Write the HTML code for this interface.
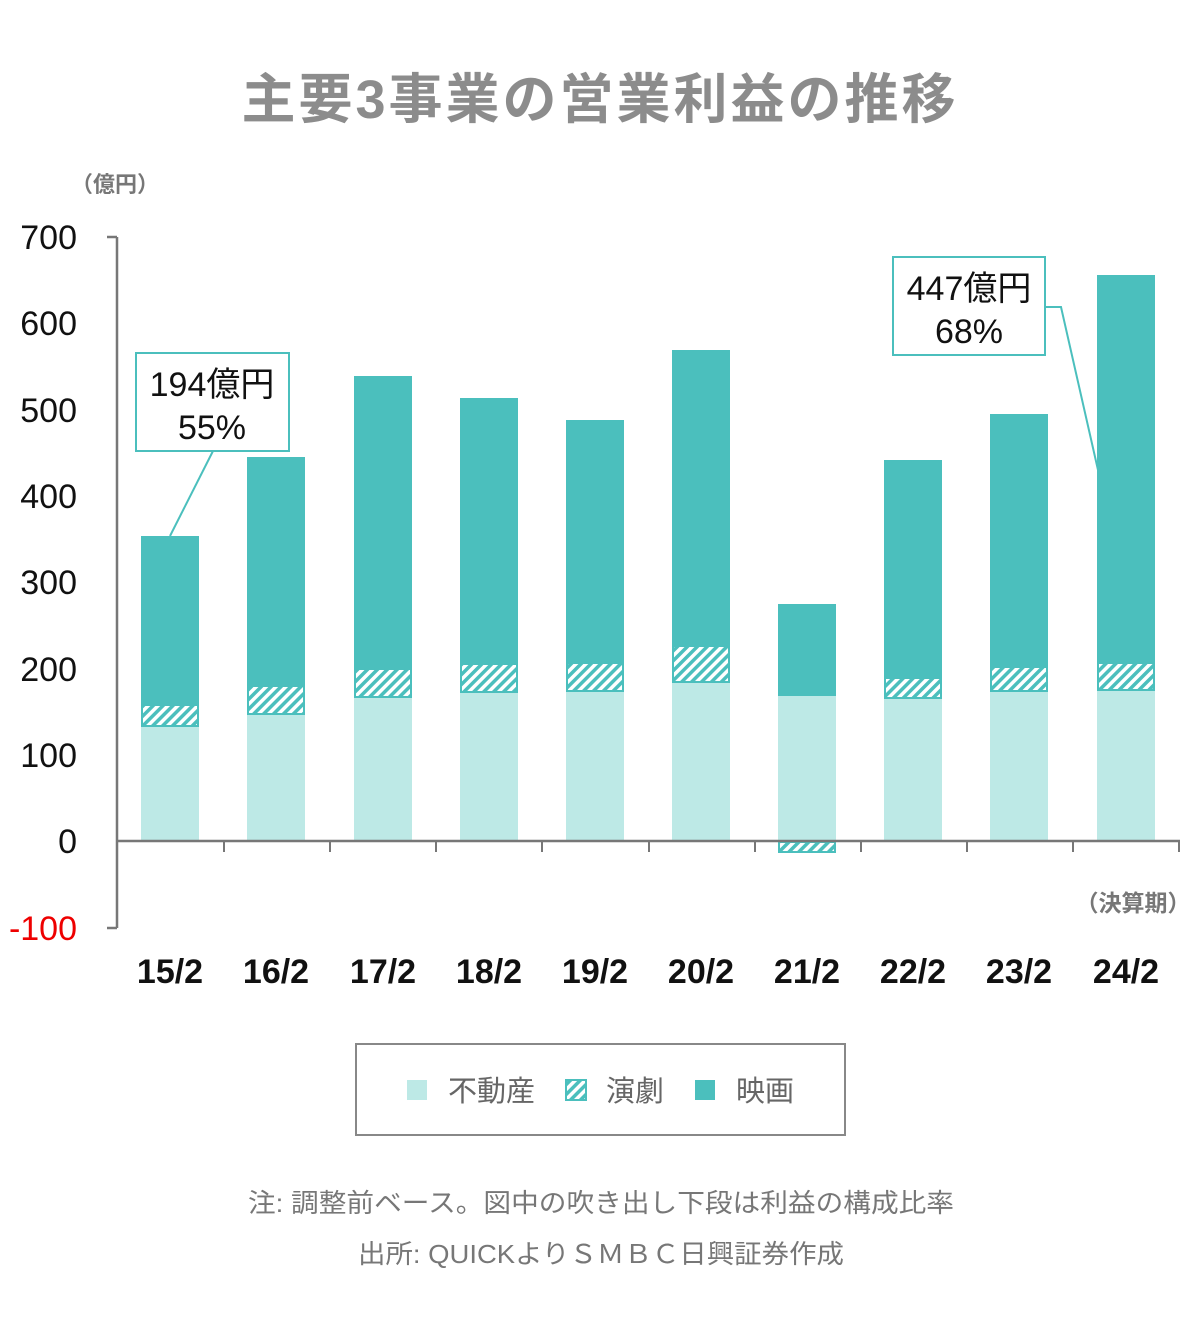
<!DOCTYPE html>
<html><head><meta charset="utf-8"><style>
html,body{margin:0;padding:0;background:#fff;}
svg{display:block;}
</style></head><body>
<svg width="1200" height="1336" viewBox="0 0 1200 1336" xmlns="http://www.w3.org/2000/svg" font-family="'Liberation Sans','Noto Sans CJK JP',sans-serif">
<defs>
<pattern id="h" patternUnits="userSpaceOnUse" width="7" height="7" patternTransform="rotate(45)">
<rect width="7" height="7" fill="#4bbfbd"/>
<rect width="3.5" height="7" fill="#fff"/>
</pattern>
</defs>
<text x="600" y="118" text-anchor="middle" font-size="54" font-weight="bold" fill="#8c8c8c" letter-spacing="3">主要3事業の営業利益の推移</text>
<text x="115" y="192" text-anchor="middle" font-size="22" font-weight="bold" fill="#777">（億円）</text>

<g font-size="34" text-anchor="end" fill="#111">
<text x="77" y="249">700</text><text x="77" y="335">600</text><text x="77" y="422">500</text>
<text x="77" y="508">400</text><text x="77" y="594">300</text><text x="77" y="681">200</text>
<text x="77" y="767">100</text><text x="77" y="853">0</text>
<text x="77" y="940" fill="#e00">-100</text>
</g>

<g id="bars">
<rect x="141" y="726" width="58" height="115" fill="#bde9e6"/><rect x="142" y="705" width="56" height="21" fill="url(#h)" stroke="#4bbfbd" stroke-width="2"/><rect x="141" y="536" width="58" height="169" fill="#4bbfbd"/>
<rect x="247" y="714" width="58" height="127" fill="#bde9e6"/><rect x="248" y="686" width="56" height="28" fill="url(#h)" stroke="#4bbfbd" stroke-width="2"/><rect x="247" y="457" width="58" height="229" fill="#4bbfbd"/>
<rect x="354" y="697" width="58" height="144" fill="#bde9e6"/><rect x="355" y="669" width="56" height="28" fill="url(#h)" stroke="#4bbfbd" stroke-width="2"/><rect x="354" y="376" width="58" height="293" fill="#4bbfbd"/>
<rect x="460" y="692" width="58" height="149" fill="#bde9e6"/><rect x="461" y="664" width="56" height="28" fill="url(#h)" stroke="#4bbfbd" stroke-width="2"/><rect x="460" y="398" width="58" height="266" fill="#4bbfbd"/>
<rect x="566" y="691" width="58" height="150" fill="#bde9e6"/><rect x="567" y="663" width="56" height="28" fill="url(#h)" stroke="#4bbfbd" stroke-width="2"/><rect x="566" y="420" width="58" height="243" fill="#4bbfbd"/>
<rect x="672" y="682" width="58" height="159" fill="#bde9e6"/><rect x="673" y="646" width="56" height="36" fill="url(#h)" stroke="#4bbfbd" stroke-width="2"/><rect x="672" y="350" width="58" height="296" fill="#4bbfbd"/>
<rect x="778" y="696" width="58" height="145" fill="#bde9e6"/><rect x="779" y="842" width="56" height="10" fill="url(#h)" stroke="#4bbfbd" stroke-width="2"/><rect x="778" y="604" width="58" height="92" fill="#4bbfbd"/>
<rect x="884" y="698" width="58" height="143" fill="#bde9e6"/><rect x="885" y="678" width="56" height="20" fill="url(#h)" stroke="#4bbfbd" stroke-width="2"/><rect x="884" y="460" width="58" height="218" fill="#4bbfbd"/>
<rect x="990" y="691" width="58" height="150" fill="#bde9e6"/><rect x="991" y="667" width="56" height="24" fill="url(#h)" stroke="#4bbfbd" stroke-width="2"/><rect x="990" y="414" width="58" height="253" fill="#4bbfbd"/>
<rect x="1097" y="690" width="58" height="151" fill="#bde9e6"/><rect x="1098" y="663" width="56" height="27" fill="url(#h)" stroke="#4bbfbd" stroke-width="2"/><rect x="1097" y="275" width="58" height="388" fill="#4bbfbd"/>
</g>

<g stroke="#777" stroke-width="2.5" fill="none">
<line x1="117" y1="237" x2="117" y2="928"/>
<line x1="107" y1="237" x2="117" y2="237"/>
<line x1="107" y1="928" x2="117" y2="928"/>
<line x1="117" y1="841" x2="1180" y2="841"/>
<g stroke-width="2">
<line x1="224" y1="841" x2="224" y2="852"/><line x1="330" y1="841" x2="330" y2="852"/><line x1="436" y1="841" x2="436" y2="852"/>
<line x1="542" y1="841" x2="542" y2="852"/><line x1="649" y1="841" x2="649" y2="852"/><line x1="755" y1="841" x2="755" y2="852"/>
<line x1="861" y1="841" x2="861" y2="852"/><line x1="967" y1="841" x2="967" y2="852"/><line x1="1073" y1="841" x2="1073" y2="852"/>
<line x1="1179" y1="841" x2="1179" y2="852"/>
</g>
</g>
<text x="1133" y="911" text-anchor="middle" font-size="23" font-weight="bold" fill="#777">（決算期）</text>

<g font-size="34" text-anchor="middle" fill="#111" font-weight="bold">
<text x="170" y="983">15/2</text><text x="276" y="983">16/2</text><text x="383" y="983">17/2</text>
<text x="489" y="983">18/2</text><text x="595" y="983">19/2</text><text x="701" y="983">20/2</text>
<text x="807" y="983">21/2</text><text x="913" y="983">22/2</text><text x="1019" y="983">23/2</text>
<text x="1126" y="983">24/2</text>
</g>

<polyline points="213,451 170,536" stroke="#4bbfbd" stroke-width="2" fill="none"/>
<rect x="136" y="353" width="153" height="98" fill="#fff" stroke="#4bbfbd" stroke-width="2"/>
<text x="212" y="396" text-anchor="middle" font-size="34" fill="#111">194億円</text>
<text x="212" y="439" text-anchor="middle" font-size="34" fill="#111">55%</text>

<polyline points="1045,307 1061,307 1098,470" stroke="#4bbfbd" stroke-width="2" fill="none"/>
<rect x="893" y="257" width="152" height="98" fill="#fff" stroke="#4bbfbd" stroke-width="2"/>
<text x="969" y="300" text-anchor="middle" font-size="34" fill="#111">447億円</text>
<text x="969" y="343" text-anchor="middle" font-size="34" fill="#111">68%</text>

<rect x="356" y="1044" width="489" height="91" fill="#fff" stroke="#888" stroke-width="2"/>
<rect x="407" y="1080" width="20" height="20" fill="#bde9e6"/>
<text x="448" y="1101" font-size="29" fill="#666">不動産</text>
<rect x="566" y="1080" width="20" height="20" fill="url(#h)" stroke="#4bbfbd" stroke-width="2"/>
<text x="606" y="1101" font-size="29" fill="#666">演劇</text>
<rect x="695" y="1080" width="20" height="20" fill="#4bbfbd"/>
<text x="736" y="1101" font-size="29" fill="#666">映画</text>

<text x="601" y="1212" text-anchor="middle" font-size="26" fill="#777" textLength="706" lengthAdjust="spacingAndGlyphs">注: 調整前ベース。図中の吹き出し下段は利益の構成比率</text>
<text x="601" y="1263" text-anchor="middle" font-size="26" fill="#777" textLength="486" lengthAdjust="spacingAndGlyphs">出所: QUICKよりＳＭＢＣ日興証券作成</text>
</svg>
</body></html>
